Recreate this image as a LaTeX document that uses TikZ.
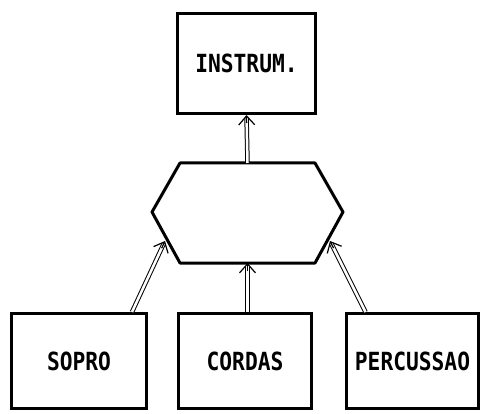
\documentclass[tikz,border=0pt]{standalone}
\usepackage{fontspec}
\usetikzlibrary{arrows.meta,calc}
\newfontfamily\boxfont[FakeStretch=0.85]{DejaVu Sans Mono}

\begin{document}
\begin{tikzpicture}[x=1pt,y=-1pt,
    box/.style={draw,line width=3pt,inner sep=0pt,minimum width=134pt,minimum height=95pt,
      font=\boxfont\bfseries\fontsize{25}{25}\selectfont},
    link/.style={double,double distance=2.5pt,line width=1pt,shorten >=3pt},
    linktip/.style={line width=1.2pt,-{Straight Barb[length=9pt,width=16pt]}}]
  \useasboundingbox (0,0) rectangle (484,414);
  % Top
  \node[box,minimum width=138pt,minimum height=100pt] (instrum) at (246.5,63.5) {INSTRUM.};
  % Hub
  \draw[line width=3pt,line join=round] (180,163) -- (315,163) -- (343,212) -- (315,263) -- (180,263) -- (152,212) -- cycle;
  \coordinate (hubN) at (247.5,163);
  \coordinate (hubS) at (247.5,263);
  \coordinate (hubSW) at (165,241);
  \coordinate (hubSE) at (330,241);
  % Bottom
  \node[box,minimum width=135pt] (sopro) at (79,361) {SOPRO};
  \node[box,minimum width=133pt] (cordas) at (245,361) {CORDAS};
  \node[box,minimum width=132pt] (percussao) at (412.5,361) {PERCUSSAO};
  \coordinate (soproTop) at ([xshift=53pt]sopro.north);
  \coordinate (cordasTop) at (cordas.north -| hubS);
  \coordinate (percTop) at ([xshift=-47pt]percussao.north);
  % Links
  \foreach \from/\to in {hubN/instrum.south,cordasTop/hubS,soproTop/hubSW,percTop/hubSE}{
    \draw[link] (\from) -- (\to);
    \draw[linktip] ($(\to)!8pt!(\from)$) -- (\to);
  }
\end{tikzpicture}
\end{document}
